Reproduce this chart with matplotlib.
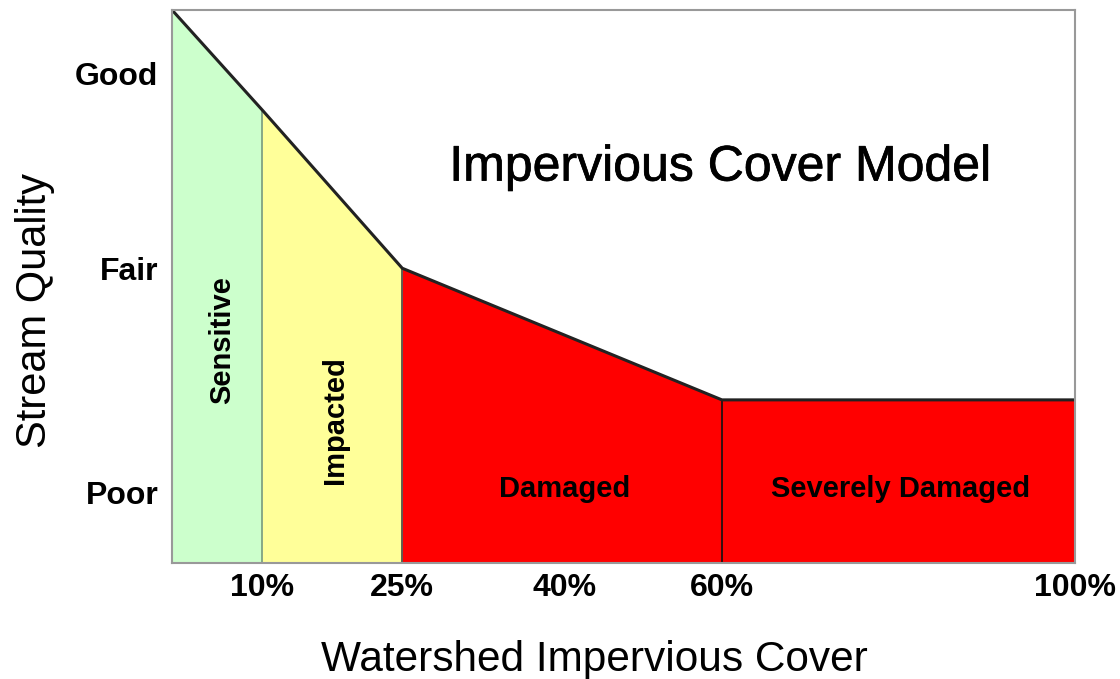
import numpy as np
import matplotlib
matplotlib.use("Agg")
import matplotlib.pyplot as plt
import matplotlib.patheffects as pe

plt.rcParams['font.family'] = ['Liberation Sans', 'DejaVu Sans']

# impervious cover (%) and stream quality (0 = bottom, 100 = top of plot)
cover = [0, 10, 25, 60, 100]
quality = [100, 81.9, 53.3, 29.5, 29.5]

zones = ['Sensitive', 'Impacted', 'Damaged', 'Severely Damaged']
zone_colors = ['#CCFFCC', '#FFFF99', '#FF0000', '#FF0000']

xticks = [10, 25, 40, 60, 100]
xtick_labels = ['10%', '25%', '40%', '60%', '100%']
yticks = [88.6, 53.3, 12.7]
ytick_labels = ['Good', 'Fair', 'Poor']

# the original axis is not quite linear; piecewise mapping of cover -> position
scale_in = [0, 10, 25, 40, 60, 100]
scale_out = [0, 10.0, 25.5, 43.5, 60.9, 100]


def fwd(v):
    return np.interp(v, scale_in, scale_out)


def inv(v):
    return np.interp(v, scale_out, scale_in)


fig = plt.figure(figsize=(11.2, 6.79), dpi=100)
ax = fig.add_axes([0.1536, 0.1708, 0.8062, 0.8145])
ax.set_xscale('function', functions=(fwd, inv))

for i in range(len(zones)):
    xs = cover[i:i + 2]
    ys = quality[i:i + 2]
    ax.fill_between(xs, 0, ys, color=zone_colors[i], lw=0)

# dividers between zones
div_colors = ['#7a9a7a', '#444444', '#111111']
for x, q, c in zip(cover[1:4], quality[1:4], div_colors):
    ax.plot([x, x], [0, q], color=c, lw=1.2)

ax.plot(cover, quality, color='#222222', lw=2.2, solid_joinstyle='miter')

# zone labels
ax.text(5.5, 40.3, zones[0], rotation=90, ha='center', va='center',
        fontsize=21, fontweight='bold')
ax.text(17.8, 25.9, zones[1], rotation=90, ha='center', va='center',
        fontsize=21, fontweight='bold')
ax.text(40, 13.4, zones[2], ha='center', va='center',
        fontsize=21, fontweight='bold')
ax.text(80.2, 13.4, zones[3], ha='center', va='center',
        fontsize=21, fontweight='bold')

ax.text(59.8, 71.5, 'Impervious Cover Model', ha='center', va='center',
        fontsize=36,
        path_effects=[pe.withStroke(linewidth=0.5, foreground='black')])

ax.set_xlim(0, 100)
ax.set_ylim(0, 100)
ax.set_xticks(xticks)
ax.set_xticklabels(xtick_labels, fontsize=23, fontweight='bold')
ax.set_yticks(yticks)
ax.set_yticklabels(ytick_labels, fontsize=23, fontweight='bold')
ax.tick_params(axis='both', length=0)
ax.tick_params(axis='x', pad=7)
ax.tick_params(axis='y', pad=10)

for s in ax.spines.values():
    s.set_color('#999999')
    s.set_linewidth(1.5)

fig.text(594 / 1120, 1 - 660 / 679, 'Watershed Impervious Cover',
         ha='center', va='center', fontsize=30.5)
fig.text(35 / 1120, 1 - 311 / 679, 'Stream Quality', rotation=90,
         ha='center', va='center', fontsize=30)

fig.savefig('out.png', dpi=100, facecolor='white')
